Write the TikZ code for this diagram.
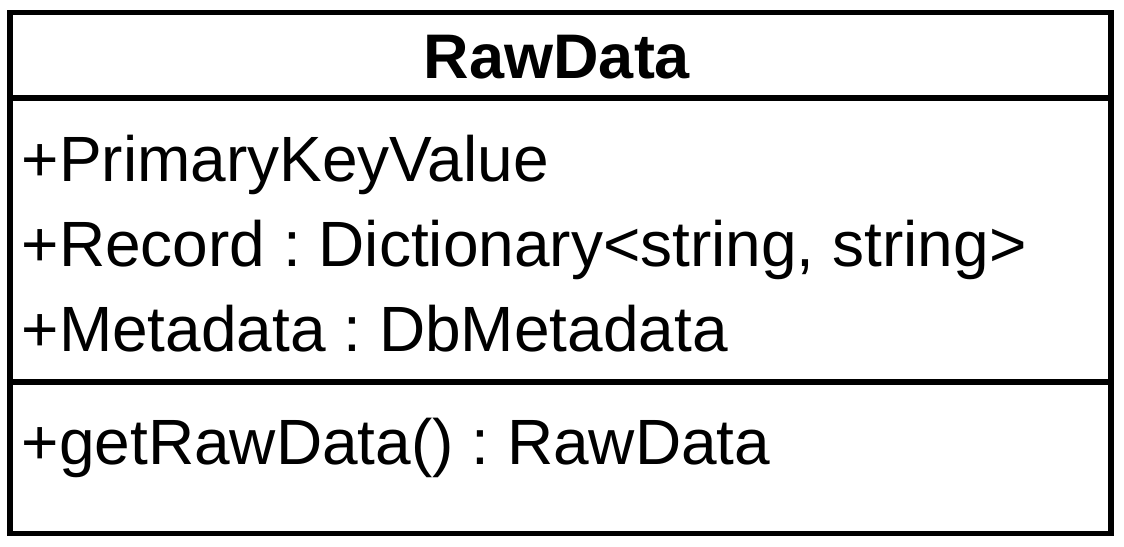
\documentclass[tikz,border=0pt]{standalone}
\usepackage{fontspec}
\setmainfont{Liberation Sans}
\frenchspacing
\begin{document}
\begin{tikzpicture}[x=1pt,y=-1pt,
  umlline/.style={line width=5.5pt,black},
  member/.style={anchor=base west,inner sep=0pt,font=\fontsize{64}{64}\selectfont},
  classname/.style={anchor=base,inner sep=0pt,font=\fontsize{63}{63}\selectfont\bfseries}]
  \useasboundingbox (0,0) rectangle (1124,546);
  % class box with compartments
  \draw[umlline] (10,12.5) rectangle (1111,533.5);
  \coordinate (d1l) at (10,98);   \coordinate (d1r) at (1111,98);
  \coordinate (d2l) at (10,382);  \coordinate (d2r) at (1111,382);
  \draw[umlline] (d1l) -- (d1r);
  \draw[umlline] (d2l) -- (d2r);
  % name
  \node[classname] (title) at (557,78.5) {RawData};
  % attributes
  \node[member] (a1) at (21.5,181) {+PrimaryKeyValue};
  \node[member] (a2) at (21.5,266) {+Record : Dictionary<string, string>};
  \node[member] (a3) at (21.5,351) {+Metadata : DbMetadata};
  % operations
  \node[member] (m1) at (21.5,464) {+getRawData() : RawData};
\end{tikzpicture}
\end{document}
